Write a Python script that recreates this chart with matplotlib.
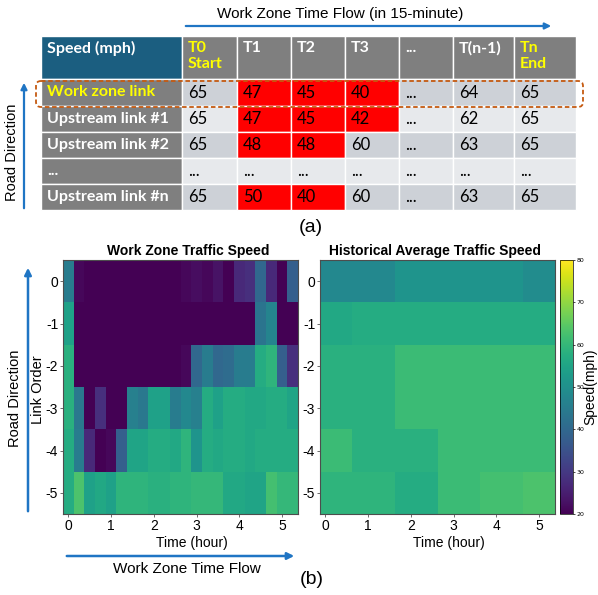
import numpy as np
import matplotlib
matplotlib.use("Agg")
import matplotlib.pyplot as plt
from matplotlib.patches import Rectangle, FancyBboxPatch

plt.rcParams["axes.unicode_minus"] = False

# ---- (a) table data ----
header = ["Speed (mph)", "T0\nStart", "T1", "T2", "T3", "...", "T(n-1)", "Tn\nEnd"]
highlight_header = ["T0\nStart", "Tn\nEnd"]
row_labels = ["Work zone link", "Upstream link #1", "Upstream link #2", "...", "Upstream link #n"]
table_values = [
    ["65", "47", "45", "40", "...", "64", "65"],
    ["65", "47", "45", "42", "...", "62", "65"],
    ["65", "48", "48", "60", "...", "63", "65"],
    ["...", "...", "...", "...", "...", "...", "..."],
    ["65", "50", "40", "60", "...", "63", "65"],
]
slow_limit = 55  # cells under this are red

# ---- (b) heatmap data, 15-minute bins ----
time_hours = np.arange(0, 5.5, 0.25)
link_order = [0, -1, -2, -3, -4, -5]
work_zone_speed = [
    [45, 21, 20, 20, 20, 20, 20, 20, 20, 20, 20, 21, 22, 21, 23, 20, 27, 28, 40, 27, 20, 38],
    [54, 20, 20, 20, 20, 20, 20, 20, 20, 20, 20, 20, 20, 20, 20, 20, 20, 20, 43, 47, 20, 20],
    [58, 20, 20, 20, 20, 20, 20, 20, 20, 20, 20, 21, 40, 45, 40, 41, 45, 45, 57, 59, 38, 28],
    [58, 44, 20, 28, 20, 20, 46, 44, 54, 54, 45, 48, 46, 57, 54, 57, 57, 56, 56, 57, 57, 55],
    [57, 45, 27, 20, 21, 38, 55, 55, 57, 57, 56, 59, 51, 57, 56, 57, 57, 56, 57, 57, 57, 57],
    [57, 63, 54, 56, 54, 59, 59, 59, 58, 58, 59, 59, 60, 60, 60, 56, 56, 55, 55, 62, 60, 60],
]
hist_speed = [
    [48, 48, 48, 48, 48, 48, 48, 51, 51, 51, 51, 51, 51, 51, 51, 51, 51, 51, 51, 49, 49, 49],
    [56, 56, 56, 57, 57, 57, 57, 57, 57, 57, 57, 57, 57, 57, 57, 57, 57, 57, 57, 57, 57, 57],
    [58, 58, 58, 58, 58, 58, 58, 61, 61, 61, 61, 61, 61, 61, 61, 61, 61, 61, 61, 61, 61, 61],
    [58, 58, 58, 58, 58, 58, 58, 61, 61, 61, 61, 61, 61, 61, 61, 61, 61, 61, 61, 61, 61, 61],
    [61, 61, 61, 58, 58, 58, 58, 58, 58, 58, 58, 61, 61, 61, 61, 61, 61, 61, 61, 61, 61, 61],
    [59, 59, 59, 59, 59, 59, 59, 57, 57, 57, 57, 61, 61, 61, 61, 62, 62, 62, 62, 63, 63, 63],
]
cbar_ticks = [20, 30, 40, 50, 60, 70, 80]

W, H = 598, 595
blue = "#1f75c4"
sans = "Liberation Sans"
fig = plt.figure(figsize=(W / 100, H / 100), dpi=100)

# overlay in pixel coords for the table and annotations
ov = fig.add_axes([0, 0, 1, 1], zorder=0)
ov.set_xlim(0, W)
ov.set_ylim(H, 0)
ov.axis("off")

col_edges = [41, 182, 237, 291, 345, 399, 453, 514, 576]
row_edges = [36, 79, 106, 132, 158, 184, 210]
tfont = "Lato"

for j, h in enumerate(header):
    x0, x1 = col_edges[j], col_edges[j + 1]
    fc = "#1b5e80" if j == 0 else "#7f7f7f"
    ov.add_patch(Rectangle((x0, row_edges[0]), x1 - x0, row_edges[1] - row_edges[0],
                           fc=fc, ec="white", lw=1))
    col = "#ffff00" if h in highlight_header else "white"
    ov.text(x0 + 6, row_edges[0] + 5, h, ha="left", va="top", color=col,
            fontsize=11.5, fontweight="bold", family=tfont, linespacing=1.2)

for i, lab in enumerate(row_labels):
    y0, y1 = row_edges[i + 1], row_edges[i + 2]
    yc = (y0 + y1) / 2
    ov.add_patch(Rectangle((col_edges[0], y0), col_edges[1] - col_edges[0], y1 - y0,
                           fc="#7f7f7f", ec="white", lw=1))
    ov.text(col_edges[0] + 6, yc, lab, ha="left", va="center",
            color="#ffff00" if i == 0 else "white",
            fontsize=11.5, fontweight="bold", family=tfont)
    base = "#cdd1d7" if i % 2 == 0 else "#e7e9ec"
    for j, v in enumerate(table_values[i]):
        x0, x1 = col_edges[j + 1], col_edges[j + 2]
        red = v.isdigit() and int(v) < slow_limit
        ov.add_patch(Rectangle((x0, y0), x1 - x0, y1 - y0,
                               fc="#ff0000" if red else base, ec="white", lw=1))
        ov.text(x0 + 6, yc, v, ha="left", va="center", color="black",
                fontsize=12, family=tfont)

# dashed outline around the work zone row
ov.add_patch(FancyBboxPatch((36, 81), 547, 26, boxstyle="round,pad=0,rounding_size=5",
                            fc="none", ec="#c55a11", lw=1.3, ls=(0, (2.5, 1.5))))

# top arrows and captions
ov.annotate("", xy=(554, 26), xytext=(183, 26),
            arrowprops=dict(arrowstyle="-|>", color=blue, lw=1.6, mutation_scale=9))
ov.text(340, 14, "Work Zone Time Flow (in 15-minute)", ha="center", va="center",
        fontsize=11, family=sans)
ov.annotate("", xy=(24, 80), xytext=(24, 211),
            arrowprops=dict(arrowstyle="-|>", color=blue, lw=1.6, mutation_scale=9))
ov.text(12, 152, "Road Direction", rotation=90, ha="center", va="center",
        fontsize=10.5, family=sans)
ov.text(311, 228, "(a)", ha="center", va="center", fontsize=14, family=sans)

# bottom arrows and captions
ov.annotate("", xy=(28, 265), xytext=(28, 514),
            arrowprops=dict(arrowstyle="-|>", color=blue, lw=1.8, mutation_scale=10))
ov.text(15, 398, "Road Direction", rotation=90, ha="center", va="center",
        fontsize=10.5, family=sans)
ov.annotate("", xy=(297, 556), xytext=(64, 556),
            arrowprops=dict(arrowstyle="-|>", color=blue, lw=1.8, mutation_scale=10))
ov.text(187, 569, "Work Zone Time Flow", ha="center", va="center",
        fontsize=11, family=sans)
ov.text(312, 580, "(b)", ha="center", va="center", fontsize=14, family=sans)

# ---- heatmaps ----
def fx(px):
    return px / W

def fy(py):
    return 1 - py / H

ax_l, ax_w, ax_b, ax_h = 63, 235, 514, 254
ax1 = fig.add_axes([fx(ax_l), fy(ax_b), fx(ax_w), ax_h / H])
ax2 = fig.add_axes([fx(320), fy(ax_b), fx(ax_w), ax_h / H])
cax = fig.add_axes([fx(560), fy(ax_b), fx(13), ax_h / H])

for ax, z in [(ax1, work_zone_speed), (ax2, hist_speed)]:
    mesh = ax.pcolormesh(time_hours, link_order, np.array(z), cmap="viridis",
                         vmin=20, vmax=80, shading="nearest")
    ax.set_xlim(time_hours[0] - 0.125, time_hours[-1] + 0.125)
    ax.set_ylim(link_order[-1] - 0.5, link_order[0] + 0.5)
    ax.set_xticks(range(6))
    ax.set_yticks(link_order)
    ax.tick_params(labelsize=10, length=2, width=0.6, pad=1.5, color="#555555")
    for lab in ax.get_xticklabels() + ax.get_yticklabels():
        lab.set_family(sans)
    ax.set_xlabel("Time (hour)", fontsize=10, family=sans)
    ax.xaxis.set_label_coords((192 - ax_l) / ax_w, (ax_b - 536) / ax_h)
    for s in ax.spines.values():
        s.set_color("#4d4d4d")
        s.set_linewidth(0.8)

ax1.set_ylabel("Link Order", fontsize=10.5, family=sans)
ax1.yaxis.set_label_coords((45 - ax_l) / ax_w, 0.49)
fig.text(fx(188), fy(251), "Work Zone Traffic Speed", ha="center", va="center",
         fontsize=10, fontweight="bold", family=sans)
fig.text(fx(435), fy(251), "Historical Average Traffic Speed", ha="center", va="center",
         fontsize=10, fontweight="bold", family=sans)

cb = fig.colorbar(mesh, cax=cax, ticks=cbar_ticks)
cb.ax.tick_params(labelsize=4.5, length=1.5, width=0.5, pad=1)
cb.outline.set_linewidth(0.5)
fig.text(fx(590), fy(387), "Speed(mph)", rotation=90, ha="center", va="center",
         fontsize=10, family=sans)

fig.savefig("out.png", dpi=100)
